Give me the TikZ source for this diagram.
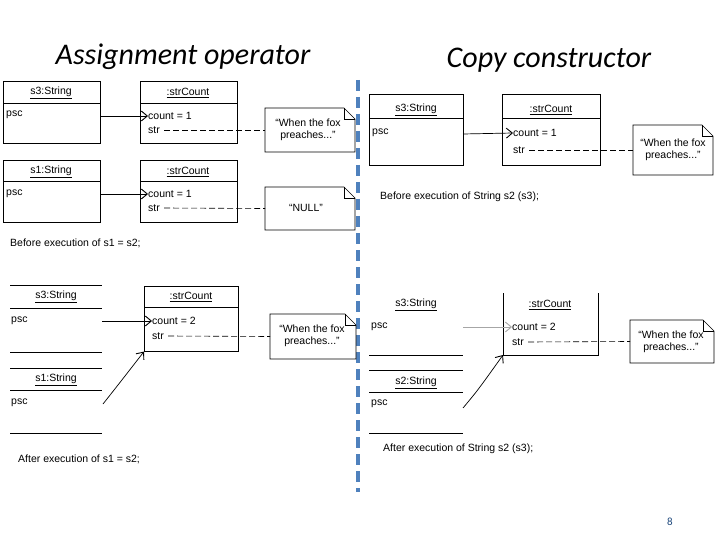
\documentclass[tikz,border=0pt]{standalone}
\usepackage{fontspec}
\setmainfont{Liberation Sans}
\newfontfamily\titlefont{Carlito}
\usetikzlibrary{arrows.meta}
\begin{document}
\begin{tikzpicture}[x=1pt,y=-1pt,
  box/.style={draw,line width=0.6pt,anchor=north west,inner sep=0pt},
  lbl/.style={anchor=west,inner sep=0pt,font=\fontsize{10.5}{12}\selectfont},
  hdr/.style={inner sep=0pt,font=\fontsize{10.5}{12}\selectfont},
  ptr/.style={line width=0.7pt,-{Straight Barb[length=6pt,width=10pt,line width=0.9pt]}},
  dsh/.style={dash pattern=on 6pt off 3pt,line width=0.6pt},
  note/.style={line width=0.6pt}]
\useasboundingbox (0,0) rectangle (720,540);
\newcommand\mynote[5]{% name, x1,y1,x2,y2
  \draw[note,fill=white] (#2,#3) -- (#4-11,#3) -- (#4,#3+11) -- (#4,#5) -- (#2,#5) -- cycle;
  \draw[note] (#4-11,#3) -- (#4-11,#3+11) -- (#4,#3+11);
  \coordinate (#1) at (#2,{(#3+#5)/2});}
% titles
\node[font=\titlefont\itshape\fontsize{30}{34}\selectfont] (t1) at (183,57) {Assignment operator};
\node[font=\titlefont\itshape\fontsize{30}{34}\selectfont] (t2) at (549,60) {Copy constructor};
% divider
\draw[draw={rgb,255:red,79;green,129;blue,189},line width=4.5pt,dash pattern=on 11pt off 6pt] (358,80) -- (358,492);
% ===== top-left
\node[box,minimum width=97pt,minimum height=62pt] (A1) at (3,81) {};
\draw (3,103) -- (100,103);
\node[hdr] (A1h) at (51,93) {\underline{s3:String}};
\node[lbl] (A1p) at (6,115) {psc};
\node[box,minimum width=97pt,minimum height=62pt] (B1) at (140,81) {};
\draw (140,103) -- (237,103);
\node[hdr] (B1h) at (188,93) {\underline{:strCount}};
\node[lbl] (B1c) at (148,116) {count = 1};
\node[lbl] (B1s) at (148,130) {str};
\mynote{N1}{265}{108}{355}{152}
\node[font=\fontsize{10.5}{12}\selectfont,align=center,inner sep=0pt] (N1t) at (308,130) {“When the fox\\preaches...”};
\draw[ptr] (100,116) -- (B1c.west);
\draw[dsh] (B1s.east) ++(4,0) -- (N1);
\node[box,minimum width=97pt,minimum height=62pt] (A2) at (3,160) {};
\draw (3,181) -- (100,181);
\node[hdr] (A2h) at (51,172) {\underline{s1:String}};
\node[lbl] (A2p) at (6,194) {psc};
\node[box,minimum width=97pt,minimum height=62pt] (B2) at (140,160) {};
\draw (140,181) -- (237,181);
\node[hdr] (B2h) at (188,172) {\underline{:strCount}};
\node[lbl] (B2c) at (148,194) {count = 1};
\node[lbl] (B2s) at (148,208) {str};
\mynote{N2}{265}{187}{355}{230}
\node[font=\fontsize{10.5}{12}\selectfont,inner sep=0pt] (N2t) at (306,208) {“NULL”};
\draw[ptr] (100,194) -- (B2c.west);
\draw[dsh] (B2s.east) ++(4,0) -- (N2);
\node[lbl] (cap1) at (10,243) {Before execution of s1 = s2;};
% ===== bottom-left
\foreach \yy in {285,308,352,368,390,433} \draw (10,\yy) -- (102,\yy);
\node[hdr] (C1h) at (56,297) {\underline{s3:String}};
\node[lbl] (C1p) at (11,321) {psc};
\node[hdr] (C2h) at (56,380) {\underline{s1:String}};
\node[lbl] (C2p) at (11,403) {psc};
\node[box,minimum width=94pt,minimum height=65pt] (D1) at (144,286) {};
\draw (144,307) -- (238,307);
\node[hdr] (D1h) at (191,297) {\underline{:strCount}};
\node[lbl] (D1c) at (152,321) {count = 2};
\node[lbl] (D1s) at (152,336) {str};
\mynote{N3}{270}{314}{356}{359}
\node[font=\fontsize{10.5}{12}\selectfont,align=center,inner sep=0pt] (N3t) at (312,336) {“When the fox\\preaches...”};
\draw[ptr] (102,321) -- (D1c.west);
\draw[ptr] (103,404) .. controls (118,385) .. (D1.south west);
\draw[dsh] (D1s.east) ++(4,0) -- (N3);
\node[lbl] (cap2) at (18,459) {After execution of s1 = s2;};
% ===== top-right
\node[box,minimum width=94pt,minimum height=71pt] (E1) at (369,94) {};
\draw (369,118) -- (463,118);
\node[hdr] (E1h) at (416,110) {\underline{s3:String}};
\node[lbl] (E1p) at (372,133) {psc};
\node[box,minimum width=98pt,minimum height=71pt] (F1) at (502,94) {};
\draw (502,118) -- (600,118);
\node[hdr] (F1h) at (551,110) {\underline{:strCount}};
\node[lbl] (F1c) at (513,133) {count = 1};
\node[lbl] (F1s) at (513,150) {str};
\mynote{N4}{633}{125}{713}{175}
\node[font=\fontsize{10.5}{12}\selectfont,align=center,inner sep=0pt] (N4t) at (673,150) {“When the fox\\preaches...”};
\draw[ptr] (463,134) -- (F1c.west);
\draw[dsh] (F1s.east) ++(4,0) -- (N4);
\node[lbl] (cap3) at (380,197) {Before execution of String s2 (s3);};
% ===== bottom-right
\foreach \yy in {355,370,392,433} \draw (369,\yy) -- (463,\yy);
\node[hdr] (G1h) at (416,305) {\underline{s3:String}};
\node[lbl] (G1p) at (371,327) {psc};
\node[hdr] (G2h) at (416,383) {\underline{s2:String}};
\node[lbl] (G2p) at (371,404) {psc};
\coordinate (H1sw) at (503,355);
\draw[line width=0.6pt] (503,293) -- (H1sw) -- (598,355) -- (598,293);
\node[hdr] (H1h) at (550,305) {\underline{:strCount}};
\node[lbl] (H1c) at (512,327) {count = 2};
\node[lbl] (H1s) at (512,342) {str};
\mynote{N5}{630}{320}{714}{363}
\node[font=\fontsize{10.5}{12}\selectfont,align=center,inner sep=0pt] (N5t) at (671,342) {“When the fox\\preaches...”};
\draw[ptr,draw=black!35] (463,327) -- (H1c.west);
\draw[ptr] (463,408) .. controls (478,390) .. (H1sw);
\draw[dsh] (H1s.east) ++(4,0) -- (N5);
\node[lbl] (cap4) at (383,449) {After execution of String s2 (s3);};
% page number
\node[font=\titlefont\fontsize{11}{12}\selectfont,text={rgb,255:red,31;green,73;blue,125}] (pg) at (670,522) {8};
\end{tikzpicture}
\end{document}
